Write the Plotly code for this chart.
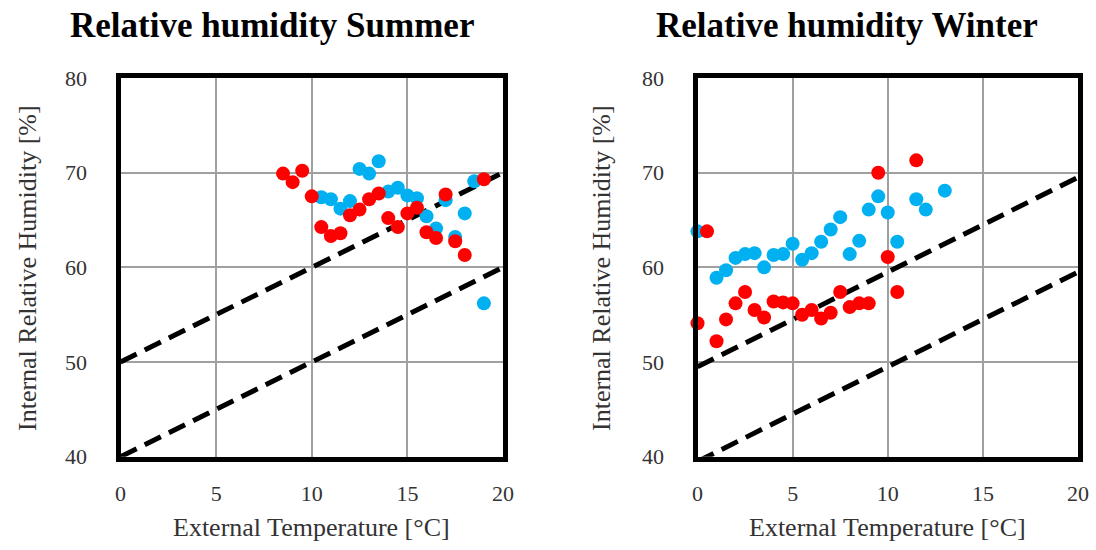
import plotly.graph_objects as go

# ---------------- data ----------------
summer_blue_x = [10.5, 11, 11.5, 12, 12.5, 13, 13.5, 14, 14.5, 15, 15.5, 16, 16.5, 17, 17.5, 18, 18.5, 19]
summer_blue_y = [67.4, 67.2, 66.2, 67.0, 70.4, 69.9, 71.2, 68.0, 68.4, 67.6, 67.3, 65.4, 64.1, 67.1, 63.2, 65.7, 69.1, 56.2]

summer_red_x = [8.5, 9, 9.5, 10, 10.5, 11, 11.5, 12, 12.5, 13, 13.5, 14, 14.5, 15, 15.5, 16, 16.5, 17, 17.5, 18, 19]
summer_red_y = [69.9, 69.0, 70.2, 67.5, 64.25, 63.3, 63.6, 65.5, 66.1, 67.2, 67.8, 65.2, 64.25, 65.7, 66.3, 63.7, 63.1, 67.7, 62.75, 61.3, 69.3]

winter_blue_x = [0, 1, 1.5, 2, 2.5, 3, 3.5, 4, 4.5, 5, 5.5, 6, 6.5, 7, 7.5, 8, 8.5, 9, 9.5, 10, 10.5, 11.5, 12, 13]
winter_blue_y = [63.8, 58.9, 59.7, 61.0, 61.4, 61.5, 60.0, 61.3, 61.4, 62.5, 60.8, 61.5, 62.7, 64.0, 65.3, 61.4, 62.8, 66.1, 67.5, 65.8, 62.7, 67.2, 66.1, 68.1]

winter_red_x = [0, 0.5, 1, 1.5, 2, 2.5, 3, 3.5, 4, 4.5, 5, 5.5, 6, 6.5, 7, 7.5, 8, 8.5, 9, 9.5, 10, 10.5, 11.5]
winter_red_y = [54.1, 63.8, 52.2, 54.5, 56.2, 57.4, 55.5, 54.7, 56.4, 56.3, 56.2, 55.0, 55.5, 54.6, 55.2, 57.4, 55.8, 56.2, 56.2, 70.0, 61.1, 57.4, 71.3]

limit_x = [0, 20]
summer_upper_y = [50, 70]
summer_lower_y = [40, 60]
winter_upper_y = [49.5, 69.5]
winter_lower_y = [39.5, 59.5]

x_ticks = [0, 5, 10, 15, 20]
y_ticks = [40, 50, 60, 70, 80]

titles = ["Relative humidity Summer", "Relative humidity Winter"]
x_title = "External Temperature [°C]"
y_title = "Internal Relative Humidity [%]"

# ---------------- style ----------------
W, H = 1096, 550
FONT = "Liberation Serif"
BLUE = "#00B0F0"
RED = "#FF0000"
GRID = "#A0A0A0"
TXT = "#333333"
MS = 14

fig = go.Figure()

panels = [
    ("x", "y", summer_blue_x, summer_blue_y, summer_red_x, summer_red_y, summer_upper_y, summer_lower_y),
    ("x2", "y2", winter_blue_x, winter_blue_y, winter_red_x, winter_red_y, winter_upper_y, winter_lower_y),
]
for xa, ya, bx, by, rx, ry, up, lo in panels:
    for ly in (up, lo):
        fig.add_trace(go.Scatter(x=limit_x, y=ly, mode="lines", xaxis=xa, yaxis=ya,
                                 line=dict(color="black", width=5, dash="18px,9px"),
                                 showlegend=False, hoverinfo="skip"))
    fig.add_trace(go.Scatter(x=bx, y=by, mode="markers", xaxis=xa, yaxis=ya, cliponaxis=False,
                             marker=dict(color=BLUE, size=MS), showlegend=False))
    fig.add_trace(go.Scatter(x=rx, y=ry, mode="markers", xaxis=xa, yaxis=ya, cliponaxis=False,
                             marker=dict(color=RED, size=MS), showlegend=False))

px = lambda p: p / W
py = lambda p: 1 - p / H

xdom1 = [px(120.5), px(503)]
xdom2 = [px(697.5), px(1078)]
ydom = [py(456.7), py(78)]

axis_common = dict(showgrid=True, gridcolor=GRID, gridwidth=1.5, zeroline=False,
                   showline=True, linecolor="black", linewidth=5, mirror=True,
                   ticks="", tickfont=dict(family=FONT, size=22, color=TXT))

xcommon = dict(axis_common, range=[0, 20], tickvals=x_ticks, ticklabelstandoff=13)
ycommon = dict(axis_common, range=[40, 80], tickvals=y_ticks, ticklabelstandoff=24)

fig.update_layout(
    width=W, height=H,
    margin=dict(l=0, r=0, t=0, b=0, autoexpand=False),
    paper_bgcolor="white", plot_bgcolor="white",
    xaxis=dict(xcommon, domain=xdom1, anchor="y"),
    yaxis=dict(ycommon, domain=ydom, anchor="x"),
    xaxis2=dict(xcommon, domain=xdom2, anchor="y2"),
    yaxis2=dict(ycommon, domain=ydom, anchor="x2"),
)

ann = []
# panel titles
for cx, t in ((272, titles[0]), (847, titles[1])):
    ann.append(dict(text="<b>%s</b>" % t, x=px(cx), y=py(26), xref="paper", yref="paper",
                    xanchor="center", yanchor="middle", showarrow=False,
                    font=dict(family=FONT, size=35, color="black")))
# x titles
for cx in ((120.5 + 503) / 2, (697.5 + 1078) / 2):
    ann.append(dict(text=x_title, x=px(cx), y=py(527), xref="paper", yref="paper",
                    xanchor="center", yanchor="middle", showarrow=False,
                    font=dict(family=FONT, size=26, color=TXT)))
# y titles
for cx in (27, 601):
    ann.append(dict(text=y_title, x=px(cx), y=py(268), xref="paper", yref="paper",
                    xanchor="center", yanchor="middle", showarrow=False, textangle=-90,
                    font=dict(family=FONT, size=26, color=TXT)))
fig.update_layout(annotations=ann)

fig.write_html("out.html")
